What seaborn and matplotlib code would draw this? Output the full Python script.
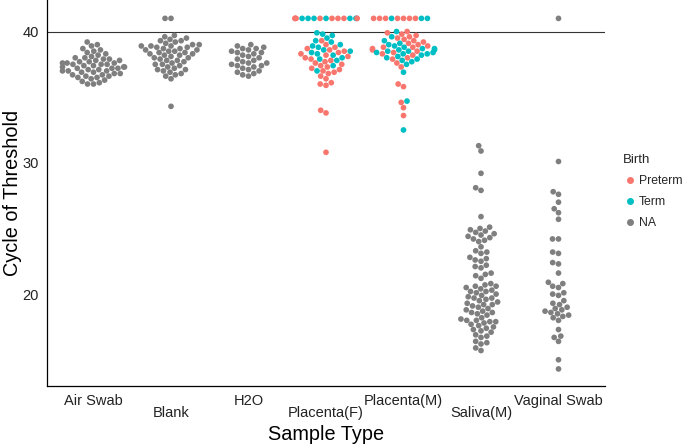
import matplotlib
matplotlib.use('Agg')
import matplotlib.pyplot as plt
from matplotlib.lines import Line2D
import pandas as pd
import seaborn as sns

# sample types on the x axis
sample_types = ["Air Swab", "Blank", "H2O", "Placenta(F)", "Placenta(M)", "Saliva(M)", "Vaginal Swab"]
birth_levels = ["Preterm", "Term", "NA"]
birth_colors = ["#F8766D", "#00BFC4", "#7F7F7F"]

# Ct values
air_swab = [39.2, 39.0, 38.9, 38.7, 38.6, 38.5, 38.4, 38.3, 38.2, 38.1, 38.0, 38.0, 37.9, 37.9,
            37.8, 37.8, 37.7, 37.7, 37.6, 37.6, 37.6, 37.5, 37.5, 37.5, 37.4, 37.4, 37.3, 37.3,
            37.3, 37.2, 37.2, 37.2, 37.1, 37.1, 37.0, 37.0, 37.0, 36.9, 36.9, 36.8, 36.8, 36.7,
            36.7, 36.6, 36.6, 36.5, 36.5, 36.4, 36.3, 36.2, 36.1, 36.0, 36.0]
blank = [41, 41, 39.7, 39.6, 39.5, 39.4, 39.3, 39.3, 39.2, 39.1, 39.0, 39.0, 38.9, 38.9, 38.9,
         38.8, 38.8, 38.7, 38.7, 38.6, 38.6, 38.5, 38.5, 38.4, 38.4, 38.3, 38.3, 38.2, 38.2,
         38.1, 38.0, 38.0, 37.9, 37.8, 37.8, 37.7, 37.6, 37.5, 37.5, 37.4, 37.3, 37.2, 37.1,
         37.1, 37.0, 36.9, 36.8, 36.7, 36.6, 36.4, 34.3]
h2o = [39.0, 38.9, 38.8, 38.7, 38.7, 38.6, 38.5, 38.4, 38.4, 38.3, 38.2, 38.1, 38.0, 37.9,
       37.8, 37.7, 37.6, 37.6, 37.5, 37.4, 37.4, 37.3, 37.2, 37.1, 37.0, 36.9, 36.8, 36.7, 36.6]
# undetermined wells (41) for the placentas, in the order they sit in the top rows
placenta_f_top = ["Term", "Preterm", "Term", "Preterm", "Preterm", "Term", "Preterm", "Preterm",
                  "Term", "Preterm", "Term", "Preterm", "Preterm", "Term", "Preterm"]
placenta_m_top = ["Preterm", "Term", "Preterm", "Preterm", "Term", "Preterm", "Preterm",
                  "Term", "Preterm", "Preterm"]
placenta_f_preterm = [39.3, 39.0, 38.8, 38.7, 38.6, 38.5, 38.4, 38.3, 38.2, 38.1, 38.0, 37.9,
                      37.8, 37.7, 37.6, 37.5, 37.4, 37.3, 37.2, 37.1, 37.0, 36.9, 36.8, 36.6,
                      36.4, 36.1, 36.0, 35.9, 34.0, 33.8, 30.8]
placenta_f_term = [39.9, 39.8, 39.7, 39.5, 39.3, 39.2, 39.0, 38.9, 38.8, 38.6, 38.5, 38.4,
                   38.3, 38.2, 38.0, 37.9, 37.8, 37.4, 37.0]
placenta_m_preterm = [40.0, 39.9, 39.8, 39.7, 39.6, 39.5, 39.4, 39.3, 39.2, 39.1, 39.0, 38.9,
                      38.8, 38.8, 38.7, 38.6, 38.5, 38.4, 38.3, 38.2, 38.0, 37.9, 37.6, 37.3,
                      36.0, 35.8, 34.6, 34.2, 33.6]
placenta_m_term = [40.0, 39.6, 39.3, 39.1, 39.0, 38.9, 38.8, 38.7, 38.7, 38.6, 38.6, 38.5,
                   38.5, 38.4, 38.4, 38.3, 38.3, 38.2, 38.1, 38.0, 37.9, 37.8, 37.7, 37.5,
                   36.9, 34.7, 32.5]
saliva_m = [31.3, 30.9, 29.2, 28.1, 27.9, 25.9,
            25.1, 25.0, 24.9, 24.8, 24.7, 24.6, 24.5, 24.4, 24.3, 24.2, 24.1, 24.0,
            23.6, 23.3, 23.2, 23.1, 22.8, 22.7, 22.6, 22.5, 22.2, 22.1, 22.0,
            21.6, 21.5, 21.4, 21.2, 20.8, 20.7, 20.6, 20.6, 20.5, 20.4,
            20.3, 20.2, 20.2, 20.1, 20.0, 19.9, 19.8, 19.7, 19.7, 19.6, 19.5,
            19.4, 19.3, 19.2, 19.2, 19.1, 19.0, 18.9, 18.8, 18.7, 18.6, 18.6, 18.5, 18.4,
            18.2, 18.1, 18.0, 18.0, 17.9, 17.9, 17.8, 17.7, 17.6, 17.5, 17.4, 17.3, 17.2, 17.1,
            16.9, 16.8, 16.7, 16.4, 16.3, 16.2, 15.9, 15.7]
vaginal_swab = [41, 30.1, 27.8, 27.6, 27.0, 26.5, 26.2, 25.7, 24.2, 24.2, 23.2, 23.1, 22.4, 22.3,
                21.6, 20.9, 20.8, 20.6, 20.5, 20.1, 20.0, 19.9, 19.5, 19.3, 19.2, 19.0, 18.9,
                18.8, 18.7, 18.6, 18.5, 18.4, 18.3, 18.2, 18.0, 17.3, 16.8, 16.7, 16.4, 15.0, 14.3]

rows = []
def add(st, b, vals):
    for v in vals:
        rows.append({"Sample Type": st, "Birth": b, "Ct": v})

add("Air Swab", "NA", air_swab)
add("Blank", "NA", blank)
add("H2O", "NA", h2o)
for b in placenta_f_top:
    add("Placenta(F)", b, [41])
add("Placenta(F)", "Preterm", placenta_f_preterm)
add("Placenta(F)", "Term", placenta_f_term)
for b in placenta_m_top:
    add("Placenta(M)", b, [41])
add("Placenta(M)", "Preterm", placenta_m_preterm)
add("Placenta(M)", "Term", placenta_m_term)
add("Saliva(M)", "NA", saliva_m)
add("Vaginal Swab", "NA", vaginal_swab)
df = pd.DataFrame(rows)

sns.set_style("white")
plt.rcParams['font.family'] = ['Liberation Sans', 'DejaVu Sans']

fig = plt.figure(figsize=(6.85, 4.47), dpi=100)
ax = fig.add_axes([47 / 685, 61 / 447, 558 / 685, 386 / 447])

sns.swarmplot(data=df, x="Sample Type", y="Ct", hue="Birth", order=sample_types,
              hue_order=birth_levels, palette=birth_colors, size=4.1, linewidth=0,
              legend=False, ax=ax, warn_thresh=1)

ax.axhline(40, color="#333333", lw=0.8, zorder=0)

ax.set_xlim(-0.6, 6.6)
ax.set_ylim(13.0, 42.4)
ax.set_yticks([20, 30, 40])
ax.tick_params(axis="both", length=4, width=0.8, color="#333333", labelsize=10.5,
               labelcolor="#222222", pad=2)
for sp in ["top", "right"]:
    ax.spines[sp].set_visible(False)
for sp in ["left", "bottom"]:
    ax.spines[sp].set_color("black")
    ax.spines[sp].set_linewidth(0.9)

# staggered x labels
for i, lab in enumerate(ax.get_xticklabels()):
    if i % 2 == 1:
        lab.set_y(-0.03)

ax.set_xlabel("Sample Type", fontsize=14.3, color="black", labelpad=4)
ax.set_ylabel("Cycle of Threshold", fontsize=14.3, color="black")
ax.yaxis.set_label_coords(-0.045, 0.5)

handles = [Line2D([], [], marker="o", ls="", color=c, markersize=4.0) for c in birth_colors]
leg = fig.legend(handles, birth_levels, title="Birth", loc="upper left",
                 bbox_to_anchor=(613 / 685, 1 - 144 / 447), frameon=False, fontsize=8.8,
                 title_fontsize=9.5, handletextpad=0.1, labelspacing=0.75, handlelength=1.2,
                 borderpad=0.3)
leg._legend_box.align = "left"

fig.savefig("out.png", dpi=100)
